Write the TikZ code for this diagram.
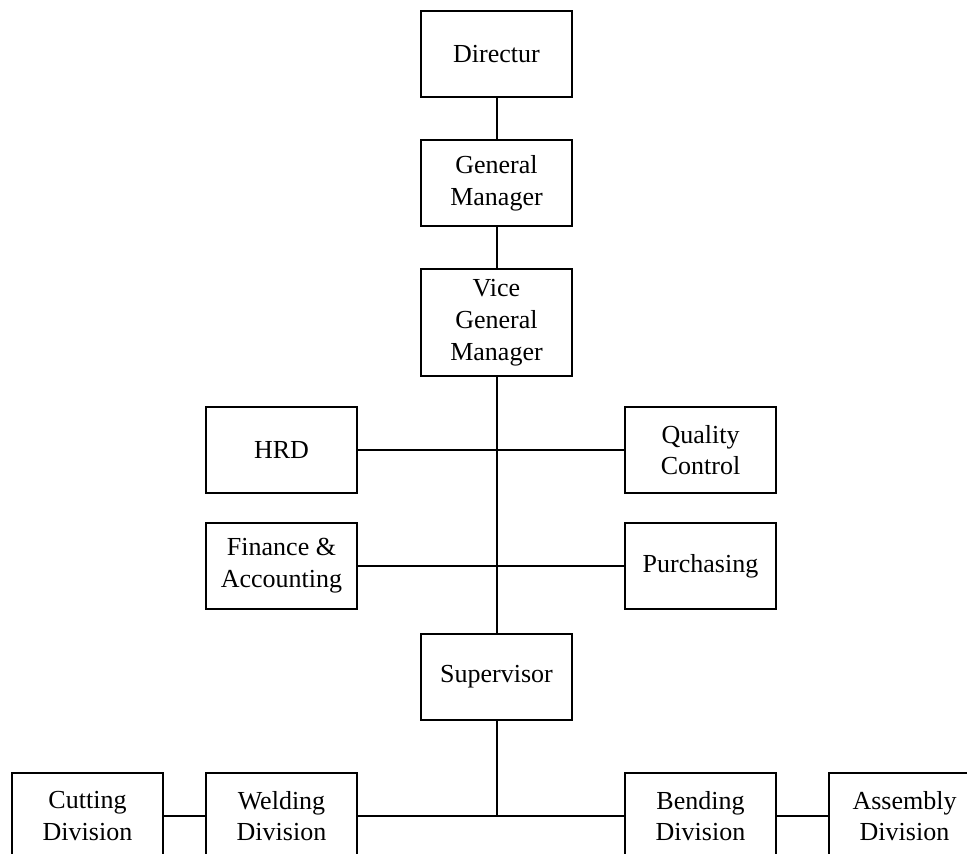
\documentclass[tikz,border=0pt]{standalone}
\usepackage{fontspec}
\setmainfont{Liberation Serif}
\begin{document}
\begin{tikzpicture}[x=1pt,y=-1pt,
  box/.style={draw,line width=2pt,minimum width=151pt,minimum height=86pt,inner sep=0pt,align=center,
    font=\fontsize{26}{31.7}\selectfont},
  tall/.style={minimum height=107pt},
  conn/.style={line width=2pt}]
\useasboundingbox (0,0) rectangle (967,854);
\clip (0,0) rectangle (967,854);
\node[box] (dir) at (496.5,54) {Directur};
\node[box] (gm) at (496.5,183) {General\\Manager};
\node[box,tall] (vgm) at (496.5,322.5) {Vice\\General\\Manager};
\node[box] (hrd) at (281.5,450) {HRD};
\node[box] (qc) at (700.5,450) {Quality\\Control};
\node[box] (fin) at (281.5,566) {Finance \&\\Accounting};
\node[box] (pur) at (700.5,566) {Purchasing};
\node[box] (sup) at (496.5,677) {Supervisor};
\node[box] (cut) at (87.5,816) {Cutting\\Division};
\node[box] (wel) at (281.5,816) {Welding\\Division};
\node[box] (ben) at (700.5,816) {Bending\\Division};
\node[box] (ass) at (904.5,816) {Assembly\\Division};
\coordinate (junc) at (sup.south |- wel.east);
\draw[conn] (dir) -- (gm);
\draw[conn] (gm) -- (vgm);
\draw[conn] (vgm) -- (sup);
\draw[conn] (hrd) -- (qc);
\draw[conn] (fin) -- (pur);
\draw[conn] (sup) -- (junc);
\draw[conn] (wel) -- (ben);
\draw[conn] (cut) -- (wel);
\draw[conn] (ben) -- (ass);
\end{tikzpicture}
\end{document}
